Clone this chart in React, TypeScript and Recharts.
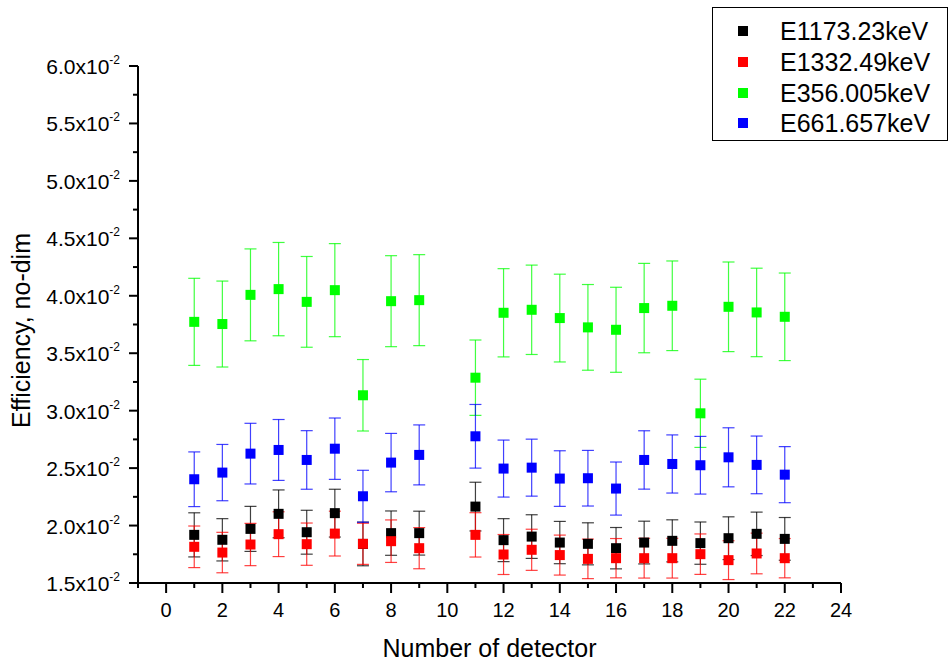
import React from 'react';
import { ScatterChart, Scatter, XAxis, YAxis, ErrorBar, Legend, Label } from 'recharts';

const detectors = [1, 2, 3, 4, 5, 6, 7, 8, 9, 11, 12, 13, 14, 15, 16, 17, 18, 19, 20, 21, 22];

const e1173 = [0.01919, 0.01876, 0.01971, 0.02102, 0.01942, 0.02108, 0.0184, 0.01934, 0.01934, 0.02165, 0.01873, 0.01904, 0.01852, 0.01841, 0.01803, 0.01852, 0.01867, 0.01847, 0.0189, 0.01928, 0.01884];
const e1173Err = [0.00192, 0.00184, 0.00196, 0.00208, 0.00191, 0.00208, 0.0019, 0.00193, 0.00191, 0.00212, 0.00187, 0.0019, 0.00184, 0.00183, 0.0018, 0.00186, 0.00183, 0.00184, 0.00186, 0.00189, 0.00186];

const e1332 = [0.01815, 0.01765, 0.01835, 0.01925, 0.01838, 0.0193, 0.01841, 0.01864, 0.01803, 0.01919, 0.01748, 0.01789, 0.01743, 0.0171, 0.01716, 0.01716, 0.01716, 0.01751, 0.01699, 0.01757, 0.01716];
const e1332Err = [0.00181, 0.00176, 0.00184, 0.00195, 0.00184, 0.00195, 0.00179, 0.00185, 0.00179, 0.00193, 0.00174, 0.00179, 0.00174, 0.00172, 0.00171, 0.00173, 0.00173, 0.00176, 0.00169, 0.00177, 0.00171];

const e356 = [0.03773, 0.03754, 0.04008, 0.04058, 0.03947, 0.04049, 0.03134, 0.03953, 0.03962, 0.03287, 0.03852, 0.03878, 0.03806, 0.03725, 0.03704, 0.03893, 0.03913, 0.02977, 0.03904, 0.03855, 0.03817];
const e356Err = [0.00379, 0.00374, 0.004, 0.00406, 0.00395, 0.00405, 0.00311, 0.00396, 0.00396, 0.00328, 0.00384, 0.00389, 0.00382, 0.00373, 0.0037, 0.00389, 0.0039, 0.00297, 0.0039, 0.00385, 0.00381];

const e661 = [0.02403, 0.02461, 0.02626, 0.02658, 0.02571, 0.02669, 0.02255, 0.02548, 0.02615, 0.02777, 0.02496, 0.02504, 0.02409, 0.02412, 0.02322, 0.02571, 0.02536, 0.02525, 0.02594, 0.02528, 0.02443];
const e661Err = [0.00238, 0.00245, 0.00264, 0.00265, 0.00255, 0.00267, 0.00226, 0.00254, 0.00261, 0.00277, 0.00248, 0.00248, 0.00242, 0.00242, 0.00231, 0.00254, 0.00253, 0.00251, 0.00257, 0.00251, 0.00244];

const xTicks = [-1, 0, 1, 2, 3, 4, 5, 6, 7, 8, 9, 10, 11, 12, 13, 14, 15, 16, 17, 18, 19, 20, 21, 22, 23, 24];
const xLabelTicks = [0, 2, 4, 6, 8, 10, 12, 14, 16, 18, 20, 22, 24];
const yMajorTicks = [0.015, 0.02, 0.025, 0.03, 0.035, 0.04, 0.045, 0.05, 0.055, 0.06];
const yMinorTicks = [0.0175, 0.0225, 0.0275, 0.0325, 0.0375, 0.0425, 0.0475, 0.0525, 0.0575];
const yTickLabels = ['1.5', '2.0', '2.5', '3.0', '3.5', '4.0', '4.5', '5.0', '5.5', '6.0'];

const FONT = '"Liberation Sans", Arial, sans-serif';

const build = (vals: number[], errs: number[]) =>
  detectors.map((d, i) => ({ x: d, y: vals[i], err: errs[i] }));

const series = [
  { name: 'E1173.23keV', color: '#000000', data: build(e1173, e1173Err) },
  { name: 'E1332.49keV', color: '#ff0000', data: build(e1332, e1332Err) },
  { name: 'E356.005keV', color: '#00ff00', data: build(e356, e356Err) },
  { name: 'E661.657keV', color: '#0000ff', data: build(e661, e661Err) },
];

const XTick = (props: any) => {
  const { x, y, payload } = props;
  const major = xLabelTicks.includes(payload.value);
  return (
    <g>
      <line x1={x} x2={x} y1={y} y2={y + (major ? 10 : 5)} stroke="#000" strokeWidth={2} />
      {major && (
        <text x={x} y={y + 34} textAnchor="middle" fontSize={20} fontFamily={FONT} fill="#000">
          {payload.value}
        </text>
      )}
    </g>
  );
};

const YTick = (props: any) => {
  const { x, y, payload } = props;
  const idx = yMajorTicks.findIndex((t) => Math.abs(t - payload.value) < 1e-6);
  const major = idx >= 0;
  return (
    <g>
      <line x1={x} x2={x - (major ? 9 : 5)} y1={y} y2={y} stroke="#000" strokeWidth={2} />
      {major && (
        <text x={x - 18} y={y + 8} textAnchor="end" fontSize={21} fontFamily={FONT} fill="#000">
          {yTickLabels[idx]}x10
          <tspan dy={-10} fontSize={12}>-2</tspan>
        </text>
      )}
    </g>
  );
};

const square = (color: string) => (props: any) => (
  <rect x={props.cx - 5} y={props.cy - 5} width={10} height={10} fill={color} />
);

const LegendBox = (props: any) => {
  const { payload } = props;
  return (
    <div
      style={{
        width: 236,
        height: 134,
        border: '1.5px solid #000',
        boxSizing: 'border-box',
        background: '#fff',
        position: 'relative',
        fontFamily: FONT,
      }}
    >
      {(payload || []).map((entry: any, i: number) => (
        <div
          key={entry.value}
          style={{
            position: 'absolute',
            left: 0,
            top: 8 + i * 30.7,
            height: 30.7,
            width: '100%',
            display: 'flex',
            alignItems: 'center',
          }}
        >
          <div style={{ width: 10, height: 10, background: entry.color, marginLeft: 25 }} />
          <div style={{ marginLeft: 32, fontSize: 25, color: '#000', lineHeight: '30px' }}>{entry.value}</div>
        </div>
      ))}
    </div>
  );
};

export default function App() {
  const yTicks = [...yMajorTicks, ...yMinorTicks].sort((a, b) => a - b);
  return (
    <div style={{ position: 'absolute', left: 0, top: 0, background: '#fff' }}>
      <ScatterChart width={951} height={663} margin={{ top: 66, right: 110, bottom: 0, left: 0 }}>
        <XAxis
          type="number"
          dataKey="x"
          domain={[-1, 24]}
          ticks={xTicks}
          interval={0}
          allowDataOverflow
          height={80}
          tickLine={false}
          tickSize={0}
          tickMargin={0}
          tick={<XTick />}
          axisLine={{ stroke: '#000', strokeWidth: 2 }}
        >
          <Label
            content={(p: any) => {
              const vb = p.viewBox;
              return (
                <text x={vb.x + vb.width / 2} y={vb.y + 74} textAnchor="middle" fontSize={25} fontFamily={FONT} fill="#000">
                  Number of detector
                </text>
              );
            }}
          />
        </XAxis>
        <YAxis
          type="number"
          dataKey="y"
          domain={[0.015, 0.06]}
          ticks={yTicks}
          interval={0}
          allowDataOverflow
          width={138}
          tickLine={false}
          tickSize={0}
          tickMargin={0}
          tick={<YTick />}
          axisLine={{ stroke: '#000', strokeWidth: 2 }}
        >
          <Label
            content={(p: any) => {
              const vb = p.viewBox;
              const cy = vb.y + vb.height / 2 + 6;
              return (
                <text x={30} y={cy} transform={`rotate(-90 30 ${cy})`} textAnchor="middle" fontSize={25} fontFamily={FONT} fill="#000">
                  Efficiency, no-dim
                </text>
              );
            }}
          />
        </YAxis>
        <Legend
          layout="vertical"
          align="center"
          verticalAlign="middle"
          content={<LegendBox />}
          wrapperStyle={{ left: 712, top: 7, width: 236, height: 134 }}
        />
        {series.map((s) => (
          <Scatter
            key={s.name}
            name={s.name}
            data={s.data}
            fill={s.color}
            shape={square(s.color)}
            isAnimationActive={false}
          >
            <ErrorBar dataKey="err" direction="y" width={6} stroke={s.color} strokeOpacity={0.75} strokeWidth={1.2} />
          </Scatter>
        ))}
      </ScatterChart>
    </div>
  );
}
